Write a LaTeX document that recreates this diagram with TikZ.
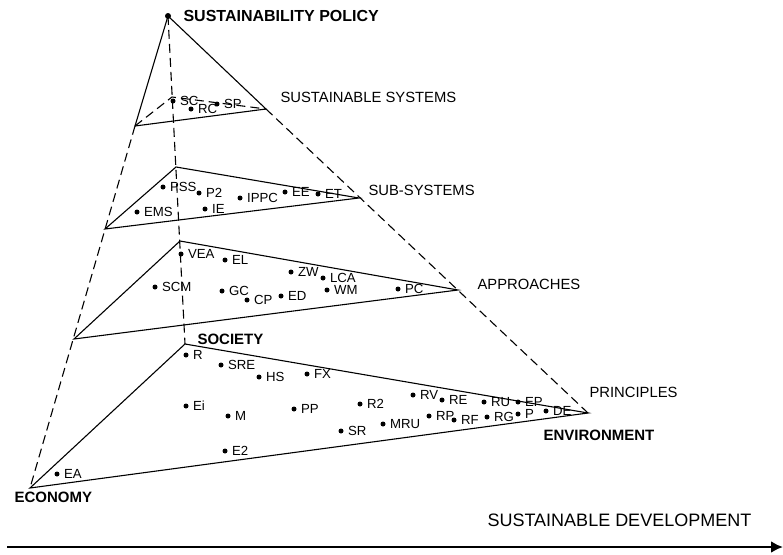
\documentclass[tikz,border=0pt]{standalone}
\usepackage{fontspec}
\setmainfont{Liberation Sans}
\usetikzlibrary{arrows.meta}
\tikzset{
  dot/.style={circle,fill,inner sep=0pt,minimum size=5pt},
  tag/.style={font=\fontsize{13.2}{15}\selectfont,inner sep=0pt},
  level/.style={font=\fontsize{14.8}{17}\selectfont,anchor=west,inner sep=0pt},
  corner/.style={font=\bfseries\fontsize{15}{18}\selectfont,anchor=west,inner sep=0pt},
  hidden/.style={dash pattern=on 9pt off 5pt}
}
\begin{document}
\begin{tikzpicture}[x=1pt,y=-1pt,line width=1.1pt]
    \useasboundingbox (0,0) rectangle (783,554);
    % pyramid corners
    \coordinate (top) at (168,16);
    \coordinate (eco) at (30,488);
    \coordinate (soc) at (185,344);
    \coordinate (env) at (588,413);
    % level corners
    \coordinate (ssl) at (135,126);
    \coordinate (ssb) at (172,97);
    \coordinate (ssr) at (266,109);
    \coordinate (subl) at (105,229);
    \coordinate (subb) at (176,167);
    \coordinate (subr) at (359,198);
    \coordinate (appl) at (74,339);
    \coordinate (appb) at (180,241);
    \coordinate (appr) at (458,290);
    % edges
    \draw (top) -- (ssl);
    \draw (top) -- (ssr);
    \draw[hidden] (ssl) -- (eco);
    \draw[hidden] (ssr) -- (env);
    \draw[hidden] (top) -- (soc);
    \draw (ssl) -- (ssr);
    \draw[hidden] (ssl) -- (ssb) -- (ssr);
    \draw (subl) -- (subb) -- (subr) -- cycle;
    \draw (appl) -- (appb) -- (appr) -- cycle;
    \draw (eco) -- (soc) -- (env) -- cycle;
    % items
    \node[dot,minimum size=6pt] (apex) at (top) {};
    \foreach \x/\y/\t in {173/101/SC,191/109/RC,217/104/SP,
        163/187/PSS,199/193/P2,240/198/IPPC,285/192/EE,318/194/ET,137/212/EMS,205/209/IE,
        181/254/VEA,225/260/EL,291/272/ZW,323/278/LCA,155/287/SCM,222/291/GC,247/300/CP,281/296/ED,327/290/WM,398/289/PC,
        186/355/R,221/365/SRE,259/377/HS,307/374/FX,186/406/Ei,228/416/M,294/409/PP,360/404/R2,341/431/SR,383/424/MRU,
        413/395/RV,442/400/RE,484/402/RU,518/402/EP,429/416/RP,454/420/RF,487/417/RG,518/414/P,546/411/DE,
        57/474/EA,225/451/E2}
        \node[dot,label={[tag,label distance=3.5pt]right:\t}] (\t) at (\x,\y) {};
    % titles
    \node[corner,font=\bfseries\fontsize{16}{19}\selectfont] (policy) at (183,16) {SUSTAINABILITY POLICY};
    \node[corner] (society) at (197,339) {SOCIETY};
    \node[corner] (environment) at (543,435) {ENVIRONMENT};
    \node[corner] (economy) at (14,497) {ECONOMY};
    \node[level] (systems) at (280,97) {SUSTAINABLE SYSTEMS};
    \node[level] (subsystems) at (368,190) {SUB-SYSTEMS};
    \node[level] (approaches) at (477,284) {APPROACHES};
    \node[level] (principles) at (589,392) {PRINCIPLES};
    \node[level,font=\fontsize{18}{21}\selectfont] (development) at (487,520) {SUSTAINABLE DEVELOPMENT};
    \coordinate (start) at (7,547);
    \coordinate (end) at (783,547);
    \draw[-{Latex[length=12pt,width=12pt]},line width=2.6pt] (start) -- (end);
\end{tikzpicture}
\end{document}
